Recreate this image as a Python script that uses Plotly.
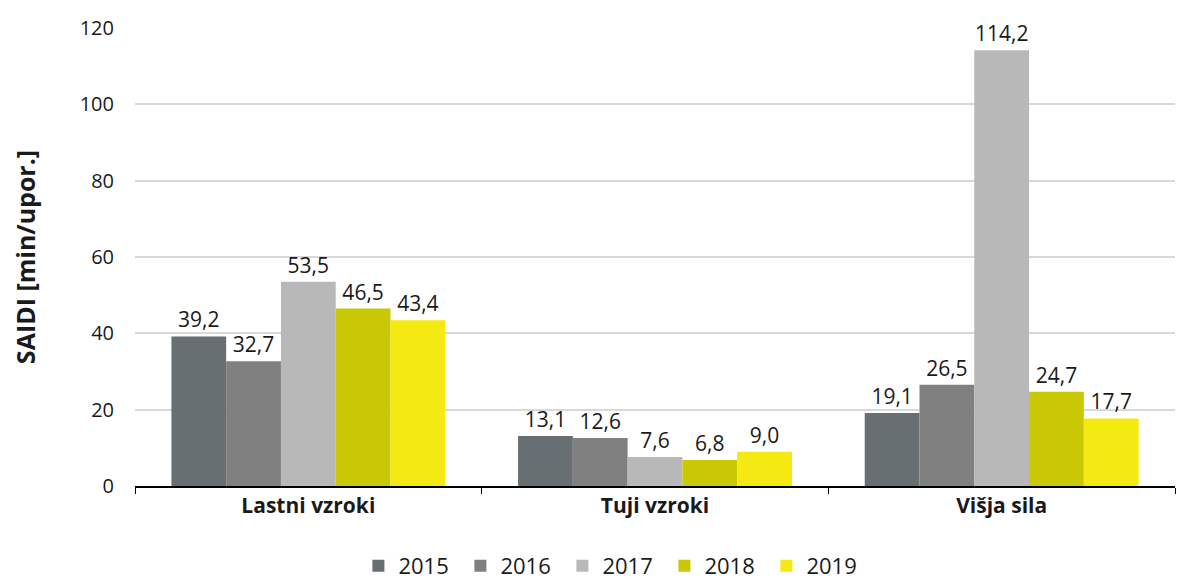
import plotly.graph_objects as go

categories = ["Lastni vzroki", "Tuji vzroki", "Višja sila"]
years = ["2015", "2016", "2017", "2018", "2019"]
v2015 = [39.2, 13.1, 19.1]
v2016 = [32.7, 12.6, 26.5]
v2017 = [53.5, 7.6, 114.2]
v2018 = [46.5, 6.8, 24.7]
v2019 = [43.4, 9.0, 17.7]
series = [v2015, v2016, v2017, v2018, v2019]
colors = ["#686f72", "#808080", "#b8b8b8", "#c8c805", "#f5e912"]

FONT = "'Open Sans', sans-serif"

fig = go.Figure()
for name, vals, c in zip(years, series, colors):
    fig.add_trace(go.Bar(
        x=categories, y=vals, name=name, marker_color=c,
        marker_line_width=0,
        text=vals, texttemplate="%{y:.1f}", textposition="outside",
        textfont=dict(size=21, color="#1a1a1a", family=FONT),
        cliponaxis=False,
    ))

fig.update_layout(
    width=1188, height=579,
    barmode="group", bargap=0.21, bargroupgap=0,
    separators=", ",
    plot_bgcolor="white", paper_bgcolor="white",
    margin=dict(l=127, r=21, t=20, b=101, autoexpand=False),
    font=dict(family=FONT, size=18, color="#1a1a1a"),
    legend=dict(orientation="h", x=0.46, xanchor="center",
                yref="container", y=0.0, yanchor="bottom",
                font=dict(size=22), traceorder="normal", entrywidth=57),
)
fig.update_yaxes(range=[0, 120], dtick=20, showgrid=True, gridcolor="#d9d9d9", gridwidth=1.5,
                 zeroline=False, showline=False, ticks="", tickfont=dict(size=20),
                 ticklabelstandoff=20, automargin=False,
                 title=dict(text="SAIDI [min/upor.]", font=dict(size=25, weight="bold"), standoff=38))
fig.update_xaxes(showline=True, linecolor="black", linewidth=1.5, ticks="outside",
                 tickson="boundaries", ticklen=6, tickcolor="black", automargin=False,
                 tickfont=dict(size=21, weight="bold"))

fig.write_html("out.html")
